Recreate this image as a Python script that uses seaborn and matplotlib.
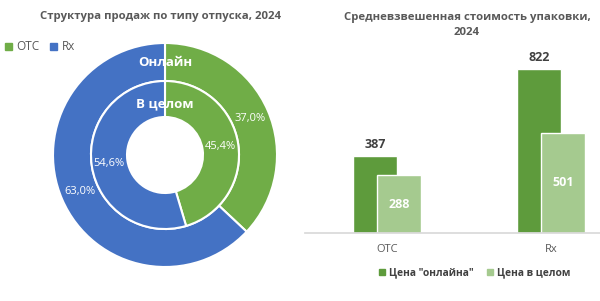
import numpy as np
import pandas as pd
import seaborn as sns
from matplotlib import pyplot as plt

# donut data (% of sales)
donut_labels = ['OTC', 'Rx']
online_share = [37.0, 63.0]
total_share = [45.4, 54.6]

# bar data (avg pack price)
types = ['OTC', 'Rx']
series_names = ['Цена "онлайна"', 'Цена в целом']
price_online = [387, 822]
price_total = [288, 501]

green = '#70AD47'
blue = '#4472C4'
dark_green = '#5E9B3C'
light_green = '#A5CA8F'
grey_txt = '#595959'

sns.set_theme(style='white')
plt.rcParams['font.family'] = ['Open Sans', 'DejaVu Sans']

fig = plt.figure(figsize=(6, 3.01), dpi=100)
W, H = 600, 301


def px_axes(x0, y0, x1, y1):
    # axes from pixel box (top-left origin)
    return fig.add_axes([x0 / W, (H - y1) / H, (x1 - x0) / W, (y1 - y0) / H])


# ---- left: donut ----
cx, cy, half = 165, 155, 120
ax1 = px_axes(cx - half, cy - half, cx + half, cy + half)
fmt = lambda p: f'{p:.1f}%'.replace('.', ',')
ax1.pie(online_share, colors=[green, blue], startangle=90, counterclock=False,
        radius=112 / 120, autopct=fmt, pctdistance=0.83,
        wedgeprops=dict(width=38 / 120, edgecolor='white', linewidth=1.5),
        textprops=dict(color='white', fontsize=8))
ax1.pie(total_share, colors=[green, blue], startangle=90, counterclock=False,
        radius=74 / 120, autopct=fmt, pctdistance=0.76,
        wedgeprops=dict(width=36 / 120, edgecolor='white', linewidth=1.5),
        textprops=dict(color='white', fontsize=8))
ax1.set_xlim(-1, 1)
ax1.set_ylim(-1, 1)
ax1.set_aspect('equal')
ax1.axis('off')
ax1.text(0, 0.77, 'Онлайн', ha='center', va='center', color='white',
         fontsize=9.5, fontweight='bold')
ax1.text(0, 0.43, 'В целом', ha='center', va='center', color='white',
         fontsize=9.5, fontweight='bold')

fig.text(160 / W, 1 - 17 / H, 'Структура продаж по типу отпуска, 2024',
         ha='center', va='center', fontsize=8.2, fontweight='bold', color=grey_txt)

# legend for donut
handles = [plt.Rectangle((0, 0), 1, 1, color=c) for c in [green, blue]]
fig.legend(handles, donut_labels, loc='center left', bbox_to_anchor=(0 / W, 1 - 47 / H),
           ncol=2, frameon=False, fontsize=8.5, handlelength=0.6, handleheight=0.6,
           handletextpad=0.4, columnspacing=0.9, labelcolor=grey_txt, borderaxespad=0)

# ---- right: bars ----
df = pd.DataFrame({
    'type': types * 2,
    'series': [series_names[0]] * 2 + [series_names[1]] * 2,
    'price': price_online + price_total,
})
ax2 = px_axes(305, 50, 600, 233)
sns.barplot(data=df, x='type', y='price', hue='series', hue_order=series_names,
            palette=[dark_green, light_green], dodge=True, width=0.29,
            saturation=1, ax=ax2, legend=False)
# widen bars so they overlap like the original
for p in ax2.patches:
    c = p.get_x() + p.get_width() / 2
    p.set_width(0.268)
    p.set_x(c - 0.134)
ax2.set_xlim(-0.5, 1.3)
ax2.set_ylim(0, 915)
ax2.set_xlabel('')
ax2.set_ylabel('')
ax2.set_yticks([])
sns.despine(ax=ax2, left=True)
ax2.spines['bottom'].set_color('#D9D9D9')
ax2.tick_params(axis='x', length=0, labelsize=8, labelcolor=grey_txt, pad=8)

ax2.bar_label(ax2.containers[0], padding=3, fontsize=9, fontweight='bold', color='#404040')
ax2.bar_label(ax2.containers[1], label_type='center', fontsize=9, fontweight='bold', color='white')

fig.text(467 / W, 1 - 25 / H, 'Средневзвешенная стоимость упаковки,\n2024',
         ha='center', va='center', fontsize=8.2, fontweight='bold', color=grey_txt,
         linespacing=1.55)

# bottom legend: one entry per legend so both baselines line up
for name, col, x0 in zip(series_names, [dark_green, light_green], [375, 483]):
    fig.legend([plt.Rectangle((0, 0), 1, 1, color=col)], [name], loc='center left',
               bbox_to_anchor=(x0 / W, 1 - 273 / H), frameon=False,
               handlelength=0.6, handleheight=0.6, handletextpad=0.4,
               labelcolor='#404040', prop=dict(weight='bold', size=7.4), borderaxespad=0)

plt.savefig('out.png', dpi=100)
